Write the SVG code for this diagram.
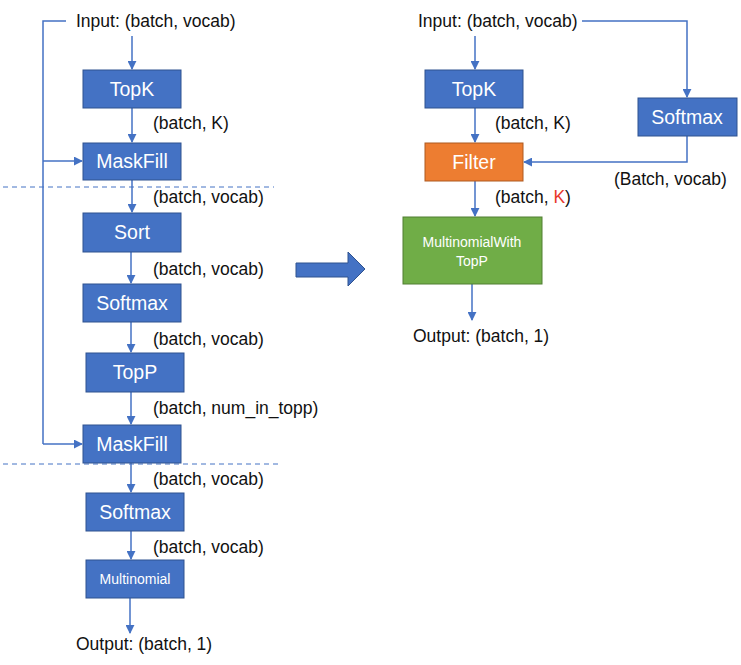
<svg xmlns="http://www.w3.org/2000/svg" width="741" height="665" viewBox="0 0 741 665">
<defs>
<marker id="ah" viewBox="0 0 10 10" refX="9" refY="5" markerWidth="9" markerHeight="9" markerUnits="userSpaceOnUse" orient="auto"><path d="M0,0 L10,5 L0,10 z" fill="#4472C4"/></marker>
<style>
text{font-family:"Liberation Sans",Arial,sans-serif;}
.lbl{font-size:17.5px;fill:#111;}
.bt{font-size:19.5px;fill:#fff;text-anchor:middle;}
.st{font-size:14px;fill:#fff;text-anchor:middle;}
.blue{fill:#4472C4;stroke:#2F528F;stroke-width:1;}
.orange{fill:#ED7D31;stroke:#AE5A21;stroke-width:1;}
.green{fill:#70AD47;stroke:#507E32;stroke-width:1;}
.ln{fill:none;stroke:#4472C4;stroke-width:1.5;}
.arr{fill:none;stroke:#4472C4;stroke-width:1.5;marker-end:url(#ah);}
.dash{fill:none;stroke:#4472C4;stroke-width:1;stroke-dasharray:5,4;}
</style>
</defs>
<rect width="741" height="665" fill="#fff"/>

<g id="connectors">
<path class="ln" d="M66,21 H43 V444"/>
<path class="arr" d="M43,161 H82"/>
<path class="arr" d="M43,444 H82"/>
<path class="arr" d="M132,36 V69"/>
<path class="arr" d="M132,108 V142"/>
<path class="arr" d="M132,180 V212"/>
<path class="arr" d="M131,252 V283"/>
<path class="arr" d="M131,322 V352"/>
<path class="arr" d="M131,392 V424"/>
<path class="arr" d="M131,463 V492"/>
<path class="arr" d="M131,531 V559"/>
<path class="arr" d="M130,598 V633"/>
<line class="dash" x1="3" y1="187" x2="274" y2="187"/>
<line class="dash" x1="3" y1="464" x2="278" y2="464"/>
<path class="arr" d="M582,21 H687 V97"/>
<path class="arr" d="M475,36 V69"/>
<path class="arr" d="M475,108 V142"/>
<path class="arr" d="M687,136 V162 H524"/>
<path class="arr" d="M475,181 V216"/>
<path class="arr" d="M472,284 V320"/>
</g>

<g id="big-arrow">
<path d="M296,263 H348 V252 L365,269 L348,286 V277 H296 Z" fill="#4472C4" stroke="#2F528F" stroke-width="1"/>
</g>

<g id="left-input"><text class="lbl" x="76" y="27">Input: (batch, vocab)</text></g>
<g id="left-topk"><rect class="blue" x="83" y="70" width="98" height="38"/><text class="bt" x="132" y="96">TopK</text></g>
<text class="lbl" x="153" y="129">(batch, K)</text>
<g id="left-maskfill1"><rect class="blue" x="83" y="143" width="98" height="37"/><text class="bt" x="132" y="168">MaskFill</text></g>
<text class="lbl" x="153" y="203">(batch, vocab)</text>
<g id="left-sort"><rect class="blue" x="83" y="213" width="98" height="39"/><text class="bt" x="132" y="239">Sort</text></g>
<text class="lbl" x="153" y="275">(batch, vocab)</text>
<g id="left-softmax1"><rect class="blue" x="83" y="284" width="98" height="38"/><text class="bt" x="132" y="310">Softmax</text></g>
<text class="lbl" x="153" y="345">(batch, vocab)</text>
<g id="left-topp"><rect class="blue" x="86" y="353" width="98" height="39"/><text class="bt" x="135" y="379">TopP</text></g>
<text class="lbl" x="153" y="414">(batch, num_in_topp)</text>
<g id="left-maskfill2"><rect class="blue" x="83" y="425" width="98" height="38"/><text class="bt" x="132" y="451">MaskFill</text></g>
<text class="lbl" x="153" y="485">(batch, vocab)</text>
<g id="left-softmax2"><rect class="blue" x="86" y="493" width="98" height="38"/><text class="bt" x="135" y="519">Softmax</text></g>
<text class="lbl" x="153" y="553">(batch, vocab)</text>
<g id="left-multinomial"><rect class="blue" x="86" y="560" width="98" height="38"/><text class="st" x="135" y="584">Multinomial</text></g>
<g id="left-output"><text class="lbl" x="76" y="650">Output: (batch, 1)</text></g>

<g id="right-input"><text class="lbl" x="418" y="27">Input: (batch, vocab)</text></g>
<g id="right-topk"><rect class="blue" x="425" y="70" width="98" height="38"/><text class="bt" x="474" y="96">TopK</text></g>
<text class="lbl" x="495" y="129">(batch, K)</text>
<g id="right-softmax"><rect class="blue" x="638" y="98" width="99" height="38"/><text class="bt" x="687" y="124">Softmax</text></g>
<g id="right-filter"><rect class="orange" x="425" y="143" width="98" height="38"/><text class="bt" x="474" y="169">Filter</text></g>
<text class="lbl" x="614" y="185">(Batch, vocab)</text>
<text class="lbl" x="495" y="203">(batch, <tspan fill="#E8382C">K</tspan>)</text>
<g id="right-multinomialwithtopp"><rect class="green" x="403" y="217" width="139" height="67"/><text class="st" x="472" y="247" fill="#EAF3E2">MultinomialWith</text><text class="st" x="472" y="266" fill="#EAF3E2">TopP</text></g>
<g id="right-output"><text class="lbl" x="413" y="342">Output: (batch, 1)</text></g>
</svg>
